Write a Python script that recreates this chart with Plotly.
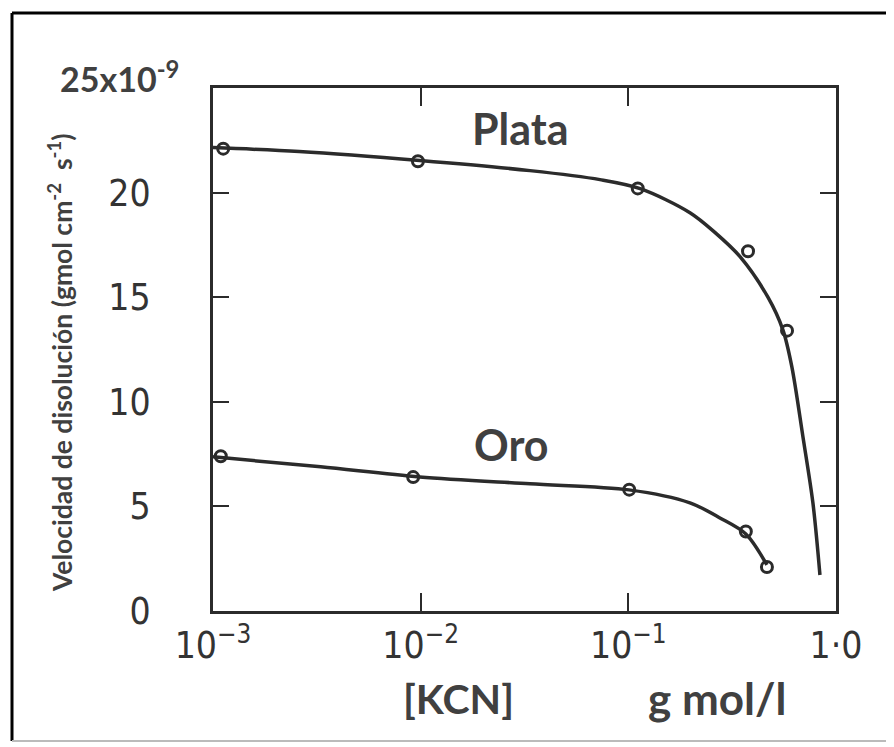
import plotly.graph_objects as go

# ---- data ----
kcn_plata_pts = [1.12e-3, 9.7e-3, 0.111, 0.377, 0.581]
vel_plata_pts = [22.1, 21.5, 20.2, 17.2, 13.4]
kcn_oro_pts = [1.09e-3, 9.2e-3, 0.101, 0.368, 0.465]
vel_oro_pts = [7.4, 6.4, 5.8, 3.8, 2.1]

kcn_plata_curve = [1.0e-3, 2.6e-3, 9.9e-3, 0.0336, 0.073, 0.114, 0.198, 0.261, 0.345, 0.47, 0.555, 0.613, 0.693, 0.774, 0.837]
vel_plata_curve = [22.15, 21.96, 21.53, 21.05, 20.62, 20.19, 19.04, 18.1, 16.94, 15.0, 13.44, 11.67, 8.33, 5.17, 1.72]
kcn_oro_curve = [1.0e-3, 3.3e-3, 9.9e-3, 0.0336, 0.1007, 0.198, 0.276, 0.368, 0.465]
vel_oro_curve = [7.37, 6.89, 6.41, 6.08, 5.79, 5.17, 4.45, 3.68, 2.2]

x_tickvals = [1e-3, 1e-2, 1e-1, 1.0]
x_ticktext = ["10<sup>−3</sup>", "10<sup>−2</sup>", "10<sup>−1</sup>", "1·0"]
y_tickvals = [0, 5, 10, 15, 20]
y_ticktext = ["0", "5", "10", "15", "20"]

INK = "#2b2b2b"
TXT = "#404040"
TICKFONT = dict(family="DejaVu Sans Condensed, Liberation Sans Narrow, Liberation Sans, Arial",
                size=37, color="#333333")
BOLD = "Lato, Open Sans, Liberation Sans"

fig = go.Figure()
for xs, ys in [(kcn_plata_curve, vel_plata_curve), (kcn_oro_curve, vel_oro_curve)]:
    fig.add_trace(go.Scatter(x=xs, y=ys, mode="lines",
                             line=dict(color=INK, width=3.5, shape="spline", smoothing=0.9),
                             hoverinfo="skip", showlegend=False))
for xs, ys in [(kcn_plata_pts, vel_plata_pts), (kcn_oro_pts, vel_oro_pts)]:
    fig.add_trace(go.Scatter(x=xs, y=ys, mode="markers",
                             marker=dict(symbol="circle-open", size=11, color=INK,
                                         line=dict(color=INK, width=3)),
                             showlegend=False))

OFF = 8  # page body margin
W, H = 894 - OFF, 747 - OFF
PL, PR, PT, PB = 213, 836, 88, 611  # plot area in page pixels
L, T = PL - OFF, PT - OFF
R, B = W - (PR - OFF), H - (PB - OFF)
pw, ph = PR - PL, PB - PT

def px(x):
    return (x - PL) / pw

def py(y):
    return (PB - y) / ph

fig.update_layout(
    width=W, height=H,
    margin=dict(l=L, r=R, t=T, b=B, pad=0),
    paper_bgcolor="white", plot_bgcolor="white",
    showlegend=False,
    xaxis=dict(type="log", range=[-3, 0], tickvals=x_tickvals, ticktext=x_ticktext,
               ticks="inside", ticklen=18, tickwidth=2, tickcolor=INK,
               showline=True, linewidth=3, linecolor=INK, mirror="ticks",
               showgrid=False, zeroline=False, tickfont=TICKFONT, ticklabelstandoff=0),
    yaxis=dict(range=[0, 25], tickvals=y_tickvals, ticktext=y_ticktext,
               ticks="inside", ticklen=16, tickwidth=2, tickcolor=INK,
               showline=True, linewidth=3, linecolor=INK, mirror="ticks",
               showgrid=False, zeroline=False, tickfont=TICKFONT, ticklabelstandoff=52),
)

ann = [
    ("25x10<sup>-9</sup>", 58, 77, 34, "left", 0),
    ("Plata", 520, 128, 43, "center", 0),
    ("Oro", 511, 444, 43, "center", 0),
    ("[KCN]", 458, 698, 41, "center", 0),
    ("g mol/l", 717, 698, 44, "center", 0),
    ("Velocidad de disolución (gmol cm<sup>-2</sup>  s<sup>-1</sup>)", 60, 363, 26.5, "center", -90),
]
for text, x, y, size, xa, ang in ann:
    fig.add_annotation(text=f"<b>{text}</b>", x=px(x), y=py(y), xref="paper", yref="paper",
                       xanchor=xa, yanchor="middle", showarrow=False, textangle=ang,
                       font=dict(family=BOLD, size=size, color=TXT))

# outer frame of the figure
fig.add_shape(type="line", xref="paper", yref="paper", x0=px(12), x1=px(900), y0=py(13), y1=py(13),
              line=dict(color="black", width=3))
fig.add_shape(type="line", xref="paper", yref="paper", x0=px(12), x1=px(12), y0=py(13), y1=py(741),
              line=dict(color="black", width=3))
fig.add_shape(type="line", xref="paper", yref="paper", x0=px(12), x1=px(900), y0=py(741), y1=py(741),
              line=dict(color="#bbbbbb", width=2))

fig.write_html("out.html", config={"displayModeBar": False})
